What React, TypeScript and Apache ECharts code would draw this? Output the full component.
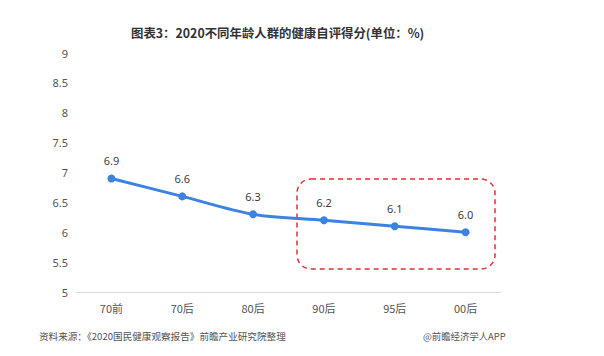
import React, { useEffect, useRef } from "react";
import * as echarts from "echarts";

const categories = ["70前", "70后", "80后", "90后", "95后", "00后"];
const scores = [6.9, 6.6, 6.3, 6.2, 6.1, 6.0];
const yTicks = { min: 5, max: 9, interval: 0.5 };

export default function App() {
  const ref = useRef<HTMLDivElement>(null);
  useEffect(() => {
    if (!ref.current) return;
    const chart = echarts.init(ref.current, undefined, { renderer: "svg" });
    chart.setOption({
      animation: false,
      backgroundColor: "#ffffff",
      title: {
        text: "图表3：2020不同年龄人群的健康自评得分(单位：%)",
        left: 126,
        top: 22,
        textStyle: { fontSize: 12.4, fontWeight: "bold", color: "#333333", fontFamily: "Noto Sans CJK SC" },
      },
      grid: { left: 76, right: 103, top: 53, bottom: 64 },
      xAxis: {
        type: "category",
        data: categories,
        boundaryGap: true,
        axisLine: { lineStyle: { color: "#d9d9d9", width: 1 } },
        axisTick: { show: false },
        axisLabel: { color: "#555555", fontSize: 11, margin: 10, fontFamily: "Noto Sans CJK SC" },
      },
      yAxis: {
        type: "value",
        min: yTicks.min,
        max: yTicks.max,
        interval: yTicks.interval,
        axisLine: { show: false },
        axisTick: { show: false },
        splitLine: { show: false },
        axisLabel: { color: "#555555", fontSize: 11, margin: 8, fontFamily: "Noto Sans" },
      },
      series: [
        {
          type: "line",
          data: scores,
          smooth: 0.3,
          symbol: "circle",
          symbolSize: 8,
          lineStyle: { color: "#3d82e0", width: 3 },
          itemStyle: { color: "#3d82e0" },
          label: {
            show: true,
            position: "top",
            distance: 8,
            color: "#404040",
            fontSize: 11,
            fontFamily: "Noto Sans",
            formatter: (p: any) => Number(p.value).toFixed(1),
          },
        },
      ],
      graphic: [
        {
          type: "rect",
          shape: { x: 297, y: 179, width: 198, height: 90, r: 14 },
          style: { fill: "none", stroke: "#e0303a", lineWidth: 1.5, lineDash: [5, 4] },
        },
        {
          type: "text",
          left: 39,
          top: 331,
          style: {
            text: "资料来源：《2020国民健康观察报告》前瞻产业研究院整理",
            fill: "#555555",
            fontSize: 9.6,
            fontFamily: "Noto Sans CJK SC",
          },
        },
        {
          type: "text",
          left: 423,
          top: 331,
          style: {
            text: "@前瞻经济学人APP",
            fill: "#555555",
            fontSize: 9.4,
            fontFamily: "Noto Sans CJK SC",
          },
        },
      ],
    });
    return () => chart.dispose();
  }, []);
  return <div ref={ref} style={{ position: "fixed", left: 0, top: 0, width: 604, height: 356 }} />;
}
